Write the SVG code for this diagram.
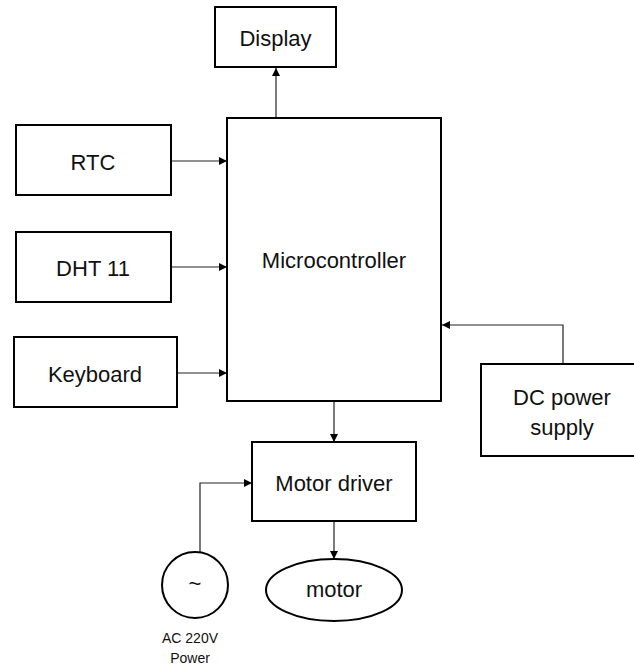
<svg xmlns="http://www.w3.org/2000/svg" width="634" height="668" viewBox="0 0 634 668">
<defs>
<style>
.box{fill:#fff;stroke:#000;stroke-width:2}
.lbl{font-family:"Liberation Sans",Arial,sans-serif;font-size:22px;fill:#111;text-anchor:middle;dominant-baseline:central}
.small{font-family:"Liberation Sans",Arial,sans-serif;font-size:14px;fill:#111;text-anchor:middle;dominant-baseline:central}
.wire{fill:none;stroke:#222;stroke-width:1.2}
</style>
<marker id="ah" viewBox="0 0 10 10" refX="10" refY="5" markerWidth="8" markerHeight="8" markerUnits="userSpaceOnUse" orient="auto">
<path d="M0,0 L10,5 L0,10 z" fill="#000"/>
</marker>
</defs>
<rect width="634" height="668" fill="#fff"/>
<g id="connectors">
<path class="wire" d="M276,118 V68" marker-end="url(#ah)"/>
<path class="wire" d="M171,161 H227" marker-end="url(#ah)"/>
<path class="wire" d="M171,267 H227" marker-end="url(#ah)"/>
<path class="wire" d="M177,373 H227" marker-end="url(#ah)"/>
<path class="wire" d="M563,364 V325 H442" marker-end="url(#ah)"/>
<path class="wire" d="M334,401 V442" marker-end="url(#ah)"/>
<path class="wire" d="M200,552 V483 H252" marker-end="url(#ah)"/>
<path class="wire" d="M334,521 V559" marker-end="url(#ah)"/>
</g>
<g id="display"><rect class="box" x="215" y="7" width="121" height="60"/><text class="lbl" x="275.5" y="38">Display</text></g>
<g id="rtc"><rect class="box" x="16" y="125" width="155" height="70"/><text class="lbl" x="93" y="162">RTC</text></g>
<g id="dht11"><rect class="box" x="16" y="232" width="155" height="70"/><text class="lbl" x="93" y="268">DHT 11</text></g>
<g id="keyboard"><rect class="box" x="14" y="337" width="163" height="70"/><text class="lbl" x="95" y="374">Keyboard</text></g>
<g id="microcontroller"><rect class="box" x="227" y="118" width="214" height="283"/><text class="lbl" x="334" y="260">Microcontroller</text></g>
<g id="dcpower"><rect class="box" x="481" y="364" width="160" height="92"/><text class="lbl" x="562" y="397">DC power</text><text class="lbl" x="562" y="427">supply</text></g>
<g id="motordriver"><rect class="box" x="252" y="442" width="164" height="79"/><text class="lbl" x="334" y="483">Motor driver</text></g>
<g id="motor"><ellipse class="box" cx="334" cy="590" rx="68" ry="31"/><text class="lbl" x="334" y="589">motor</text></g>
<g id="ac"><circle class="box" cx="195" cy="585" r="33"/><text class="lbl" x="195" y="583">~</text><text class="small" x="190" y="638">AC 220V</text><text class="small" x="190" y="658">Power</text></g>
</svg>
